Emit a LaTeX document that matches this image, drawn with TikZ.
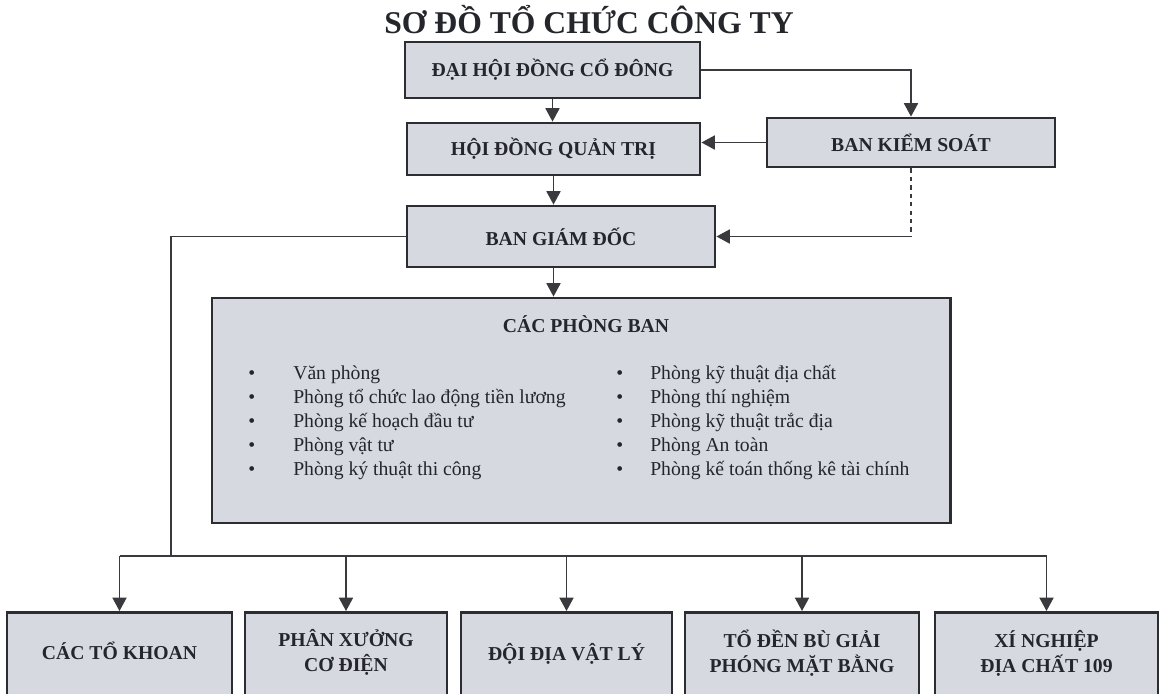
\documentclass[tikz,border=0pt]{standalone}
\usepackage{fontspec}
\setmainfont{Liberation Serif}
\usetikzlibrary{positioning,arrows.meta}
\definecolor{boxfill}{HTML}{D6D9E0}
\definecolor{boxline}{HTML}{2B2D33}
\definecolor{wire}{HTML}{3A3A3E}
\definecolor{ink}{HTML}{25262B}

\begin{document}
\begin{tikzpicture}[
    x=0.025cm, y=-0.025cm,
    >={Triangle[length=9.5pt,width=10pt]},
    every node/.style={text=ink},
    orgbox/.style={
        draw=boxline,
        line width=2pt,
        fill=boxfill,
        align=center,
        font=\fontsize{14}{18}\selectfont\bfseries,
    },
    unitbox/.style={
        orgbox,
        anchor=north,
        inner ysep=0pt,
        text height=#1,
        text depth=2.6cm,
    },
    link/.style={line width=1.1pt,draw=wire},
    room/.style={anchor=base west,inner sep=0pt,font=\fontsize{14}{17}\selectfont},
]
\useasboundingbox (0,0) rectangle (1162,693);
\clip (0,0) rectangle (1162,693);

% === Title ===
\node[anchor=base,font=\fontsize{22.5}{26}\selectfont\bfseries] (title) at (589,33) {SƠ ĐỒ TỔ CHỨC CÔNG TY};

% === Top of the chart ===
\node[orgbox,minimum width=7.375cm,minimum height=1.4cm] (dhcd) at (552.5,70) {ĐẠI HỘI ĐỒNG CỔ ĐÔNG};
\node[orgbox,minimum width=7.325cm,minimum height=1.3cm] (hdqt) at (553.5,149) {HỘI ĐỒNG QUẢN TRỊ};
\node[orgbox,minimum width=7.2cm,minimum height=1.225cm] (bks) at (911,142.5) {BAN KIỂM SOÁT};
\node[orgbox,minimum width=7.7cm,minimum height=1.525cm] (bgd) at (561,236.5) {BAN GIÁM ĐỐC};

\draw[link,->] (dhcd.south) -- (dhcd.south |- hdqt.north);
\draw[link,->] (hdqt.south) -- (hdqt.south |- bgd.north);
\draw[link,->] (dhcd.east) -| (bks.north);
\draw[link,->] (bks.west) -- (bks.west -| hdqt.east);
\draw[link,dashed] (bks.south) -- (bks.south |- bgd.east) coordinate (bkscorner);
\draw[link,->] (bkscorner) -- (bgd.east);

% === Departments ===
\node[orgbox,minimum width=18.45cm,minimum height=5.625cm] (cpb) at (581,410.5) {};
\node[anchor=base,font=\fontsize{14}{18}\selectfont\bfseries] (cpbhead) at (586,332) {CÁC PHÒNG BAN};

\draw[link,->] (hdqt.south |- bgd.south) -- (hdqt.south |- cpb.north);

\foreach \room [count=\i] in {Văn phòng,Phòng tổ chức lao động tiền lương,Phòng kế hoạch đầu tư,Phòng vật tư,Phòng ký thuật thi công}
    \node[room] (lroom\i) at (248,355+24*\i) {\makebox[1.125cm][l]{\textbullet}\room};
\foreach \room [count=\i] in {Phòng kỹ thuật địa chất,Phòng thí nghiệm,Phòng kỹ thuật trắc địa,Phòng An toàn,Phòng kế toán thống kê tài chính}
    \node[room] (rroom\i) at (616,355+24*\i) {\makebox[0.85cm][l]{\textbullet}\room};

% === Units ===
\coordinate (bus) at (0,556);
\coordinate (trunk) at (171,556);

\node[unitbox=1.175cm,minimum width=5.625cm] (khoan) at (119.5,611) {CÁC TỔ KHOAN};
\node[unitbox=1.475cm,minimum width=5.05cm] (xuong) at (346,611) {PHÂN XƯỞNG\\CƠ ĐIỆN};
\node[unitbox=1.2cm,minimum width=5.275cm] (vatly) at (566.5,611) {ĐỘI ĐỊA VẬT LÝ};
\node[unitbox=1.5cm,minimum width=5.85cm] (denbu) at (802,611) {TỔ ĐỀN BÙ GIẢI\\PHÓNG MẶT BẰNG};
\node[unitbox=1.5cm,minimum width=5.575cm] (xinghiep) at (1046.5,611) {XÍ NGHIỆP\\ĐỊA CHẤT 109};

\draw[link] (bgd.west) -| (trunk);
\draw[link] (khoan.north |- bus) -- (xinghiep.north |- bus);
\foreach \unit in {khoan,xuong,vatly,denbu,xinghiep}
    \draw[link,->] (\unit.north |- bus) -- (\unit.north);

\end{tikzpicture}
\end{document}
